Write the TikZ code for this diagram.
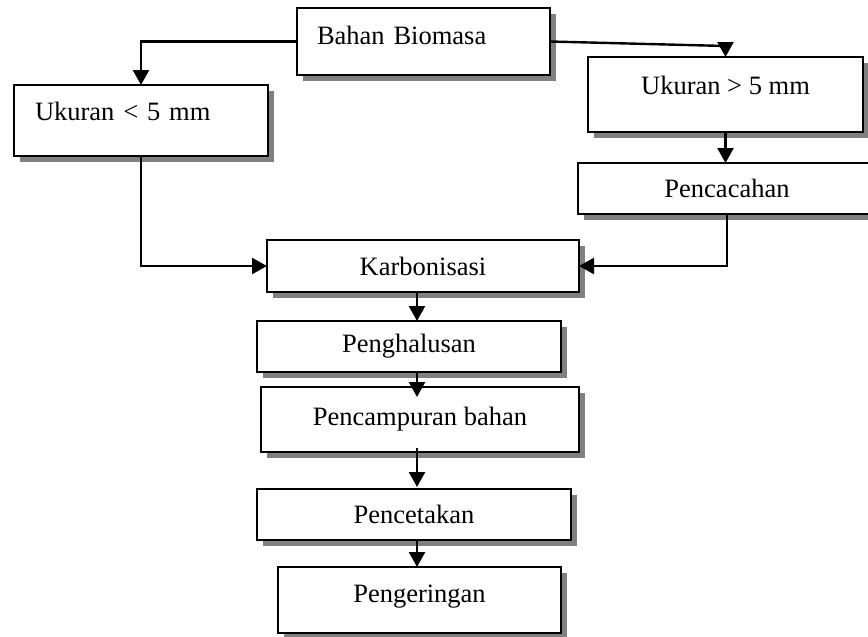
\documentclass[tikz,border=0pt]{standalone}
\usepackage{fontspec}
\setmainfont{Liberation Serif}
\usetikzlibrary{arrows.meta,shadows}
\begin{document}
\begin{tikzpicture}[x=1pt,y=-1pt]
\tikzset{
  box/.style={draw, line width=2.2pt, fill=white, anchor=north west, inner sep=0pt, outer sep=0pt,
    drop shadow={shadow xshift=5.5pt, shadow yshift=-5.5pt, fill=black!50, opacity=1},
    font=\fontsize{26.5}{30}\selectfont},
  conn/.style={line width=2.4pt},
  arr/.style={conn, -{Triangle[width=16pt,length=15pt]}},
}
\fill[white] (0,0) rectangle (868,637);
\useasboundingbox (0,0) rectangle (868,637);
\node[box, minimum width=253pt, minimum height=67pt, text width=213pt, inner xsep=20pt, align=left, text height=18pt, text depth=13pt] (bahan) at (297,8) {Bahan Biomasa};
\node[box, minimum width=254pt, minimum height=71pt, text width=212pt, inner xsep=21pt, align=left, text height=18pt, text depth=18pt] (ukk) at (14,85) {Ukuran < 5 mm};
\node[box, minimum width=275pt, minimum height=75pt, text height=18pt, text depth=19pt] (ukb) at (588,57) {Ukuran > 5 mm};
\node[box, minimum width=298pt, minimum height=51pt] (pcc) at (578,163) {Pencacahan};
\node[box, minimum width=312pt, minimum height=52pt] (karb) at (267,240) {Karbonisasi};
\node[box, minimum width=304pt, minimum height=51pt] (pengh) at (257,321) {Penghalusan};
\node[box, minimum width=318pt, minimum height=65pt] (pencamp) at (261,387) {Pencampuran bahan};
\node[box, minimum width=314pt, minimum height=51pt] (pencet) at (257,489) {Pencetakan};
\node[box, minimum width=283pt, minimum height=66pt, text height=18pt, text depth=14pt] (penger) at (278,567) {Pengeringan};
\coordinate (spine) at (417,0);
\coordinate (rbend) at (ukb.north |- 0,46);
\draw[arr] (bahan.west) -| (ukk.north);
\draw[arr] (bahan.east) -- (rbend) -- (ukb.north);
\draw[arr] (ukb.south) -- (ukb.south |- pcc.north);
\draw[arr] (ukk.south) |- (karb.west);
\draw[arr] (pcc.south) |- (karb.east);
\draw[arr] (karb.south -| spine) -- (pengh.north -| spine);
\draw[arr, shorten >=-10pt] (pengh.south -| spine) -- (pencamp.north -| spine);
\draw[arr, shorten <=-4pt, shorten >=2pt] (pencamp.south -| spine) -- (pencet.north -| spine);
\draw[arr] (pencet.south -| spine) -- (penger.north -| spine);
\end{tikzpicture}
\end{document}
